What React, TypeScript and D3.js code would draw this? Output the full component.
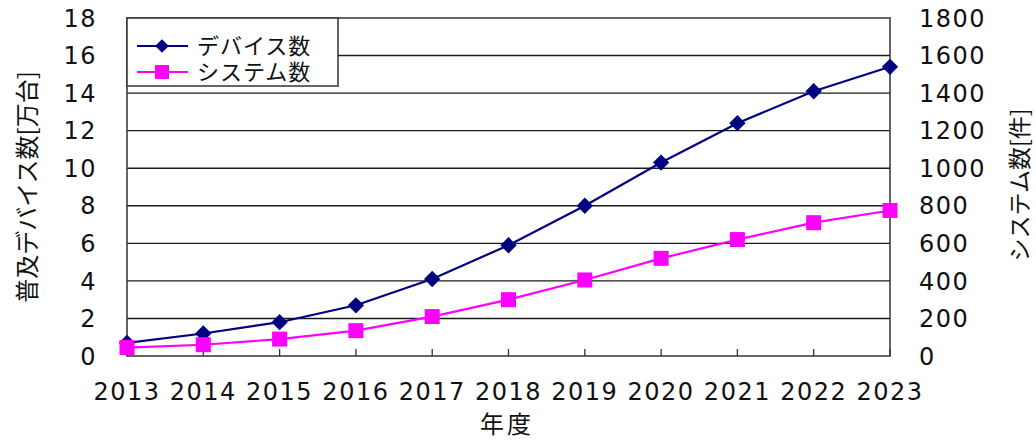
import React, { useEffect, useRef } from "react";
import * as d3 from "d3";

const years = ["2013", "2014", "2015", "2016", "2017", "2018", "2019", "2020", "2021", "2022", "2023"];
const devices = [0.7, 1.2, 1.8, 2.7, 4.1, 5.9, 8.0, 10.3, 12.4, 14.1, 15.4];
const systems = [45, 60, 90, 135, 210, 300, 405, 520, 620, 710, 775];
const leftTicks = [0, 2, 4, 6, 8, 10, 12, 14, 16, 18];
const rightTicks = [0, 200, 400, 600, 800, 1000, 1200, 1400, 1600, 1800];
const seriesNames = ["デバイス数", "システム数"];

const W = 1036;
const H = 441;
const NAVY = "#000080";
const PINK = "#ff00ff";
const numFont = "'DejaVu Sans', sans-serif";
const jpFont = "'Noto Sans CJK JP', sans-serif";

export default function App() {
  const ref = useRef<SVGSVGElement | null>(null);

  useEffect(() => {
    const svg = d3.select(ref.current);
    svg.selectAll("*").remove();

    const margin = { top: 18, left: 127, right: W - 890, bottom: H - 356 };
    const iw = W - margin.left - margin.right;
    const ih = H - margin.top - margin.bottom;

    const x = d3.scalePoint<string>().domain(years).range([0, iw]);
    const yL = d3.scaleLinear().domain([0, 18]).range([ih, 0]);
    const yR = d3.scaleLinear().domain([0, 1800]).range([ih, 0]);

    const g = svg.append("g").attr("transform", `translate(${margin.left},${margin.top})`);

    // gridlines
    g.selectAll("line.grid")
      .data(leftTicks.filter((t) => t > 0 && t < 18))
      .enter()
      .append("line")
      .attr("class", "grid")
      .attr("x1", 0)
      .attr("x2", iw)
      .attr("y1", (d) => yL(d))
      .attr("y2", (d) => yL(d))
      .attr("stroke", "#1a1a1a")
      .attr("stroke-width", 1.4);

    // frame
    g.append("rect")
      .attr("x", 0)
      .attr("y", 0)
      .attr("width", iw)
      .attr("height", ih)
      .attr("fill", "none")
      .attr("stroke", "#333")
      .attr("stroke-width", 1.5);

    // x ticks pointing up
    g.selectAll("line.xt")
      .data(years)
      .enter()
      .append("line")
      .attr("class", "xt")
      .attr("x1", (d) => x(d)!)
      .attr("x2", (d) => x(d)!)
      .attr("y1", ih)
      .attr("y2", ih - 7)
      .attr("stroke", "#333")
      .attr("stroke-width", 1.3);

    // tick labels
    g.selectAll("text.xl")
      .data(years)
      .enter()
      .append("text")
      .attr("class", "xl")
      .attr("x", (d) => x(d)!)
      .attr("y", ih + 44)
      .attr("text-anchor", "middle")
      .attr("font-family", numFont)
      .attr("font-size", 24)
      .attr("letter-spacing", 1.5)
      .attr("fill", "#111")
      .text((d) => d);

    g.selectAll("text.yl")
      .data(leftTicks)
      .enter()
      .append("text")
      .attr("class", "yl")
      .attr("x", -30)
      .attr("y", (d) => yL(d))
      .attr("dy", "0.36em")
      .attr("text-anchor", "end")
      .attr("font-family", numFont)
      .attr("font-size", 24)
      .attr("letter-spacing", 1.5)
      .attr("fill", "#111")
      .text((d) => d);

    g.selectAll("text.yr")
      .data(rightTicks)
      .enter()
      .append("text")
      .attr("class", "yr")
      .attr("x", iw + 29)
      .attr("y", (d) => yR(d))
      .attr("dy", "0.36em")
      .attr("text-anchor", "start")
      .attr("font-family", numFont)
      .attr("font-size", 24)
      .attr("letter-spacing", 1.5)
      .attr("fill", "#111")
      .text((d) => d);

    // axis titles
    svg.append("text")
      .attr("transform", `translate(36,187) rotate(-90)`)
      .attr("text-anchor", "middle")
      .attr("font-family", jpFont)
      .attr("font-size", 24)
      .attr("fill", "#111")
      .text("普及デバイス数[万台]");

    svg.append("text")
      .attr("transform", `translate(1028,185) rotate(-90)`)
      .attr("text-anchor", "middle")
      .attr("font-family", jpFont)
      .attr("font-size", 23)
      .attr("fill", "#111")
      .text("システム数[件]");

    svg.append("text")
      .attr("x", 507)
      .attr("y", 433)
      .attr("text-anchor", "middle")
      .attr("font-family", jpFont)
      .attr("font-size", 24)
      .attr("letter-spacing", 3)
      .attr("fill", "#111")
      .text("年度");

    // lines
    const lineL = d3.line<number>().x((d, i) => x(years[i])!).y((d) => yL(d));
    const lineR = d3.line<number>().x((d, i) => x(years[i])!).y((d) => yR(d));

    g.append("path").attr("d", lineL(devices)).attr("fill", "none").attr("stroke", NAVY).attr("stroke-width", 2.2);
    g.append("path").attr("d", lineR(systems)).attr("fill", "none").attr("stroke", PINK).attr("stroke-width", 2.2);

    const diamond = d3.symbol().type(d3.symbolDiamond2).size(170);

    g.selectAll("path.dm")
      .data(devices)
      .enter()
      .append("path")
      .attr("class", "dm")
      .attr("d", diamond()!)
      .attr("transform", (d, i) => `translate(${x(years[i])},${yL(d)})`)
      .attr("fill", NAVY);

    g.selectAll("rect.sq")
      .data(systems)
      .enter()
      .append("rect")
      .attr("class", "sq")
      .attr("x", (d, i) => x(years[i])! - 7.5)
      .attr("y", (d) => yR(d) - 7.5)
      .attr("width", 15)
      .attr("height", 15)
      .attr("fill", PINK);

    // legend
    const lg = svg.append("g").attr("transform", "translate(127,18)");
    lg.append("rect")
      .attr("width", 211)
      .attr("height", 68)
      .attr("fill", "#fff")
      .attr("stroke", "#333")
      .attr("stroke-width", 1.5);

    const rows = [
      { name: seriesNames[0], color: NAVY, y: 28 },
      { name: seriesNames[1], color: PINK, y: 54 },
    ];
    rows.forEach((r, i) => {
      lg.append("line")
        .attr("x1", 10)
        .attr("x2", 61)
        .attr("y1", r.y)
        .attr("y2", r.y)
        .attr("stroke", r.color)
        .attr("stroke-width", 2.2);
      if (i === 0) {
        lg.append("path")
          .attr("d", d3.symbol().type(d3.symbolDiamond2).size(120)()!)
          .attr("transform", `translate(35,${r.y})`)
          .attr("fill", r.color);
      } else {
        lg.append("rect")
          .attr("x", 28)
          .attr("y", r.y - 7)
          .attr("width", 14)
          .attr("height", 14)
          .attr("fill", r.color);
      }
      lg.append("text")
        .attr("x", 70)
        .attr("y", r.y)
        .attr("dy", "0.36em")
        .attr("font-family", jpFont)
        .attr("font-size", 22)
        .attr("letter-spacing", 1)
        .attr("fill", "#111")
        .text(r.name);
    });
  }, []);

  return (
    <svg
      ref={ref}
      width={W}
      height={H}
      style={{ position: "absolute", left: 0, top: 0, background: "#fff" }}
    />
  );
}
